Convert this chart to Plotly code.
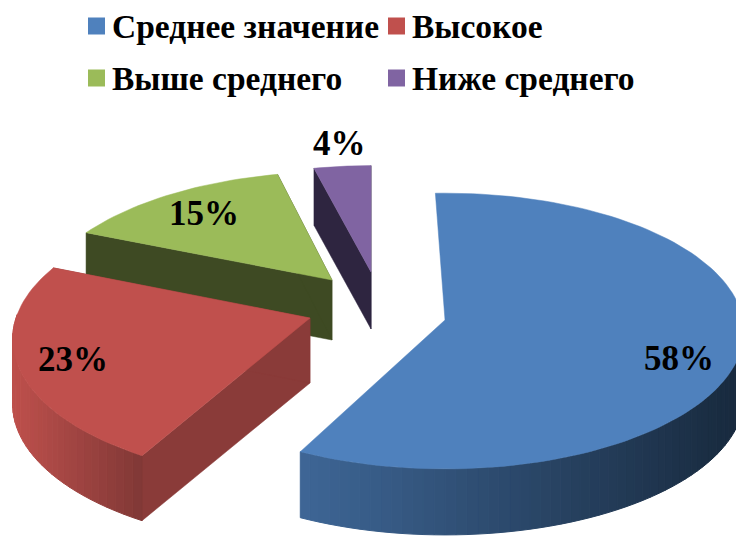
import math
import plotly.graph_objects as go

categories = ["Среднее значение", "Высокое", "Выше среднего", "Ниже среднего"]
values = [58, 23, 15, 4]
value_labels = ["58%", "23%", "15%", "4%"]

# style / layout constants
W, H = 736, 538
TOP = ["#4F81BD", "#C0504D", "#9BBB59", "#8064A2"]
ARC_L = [(62, 102, 150), (190, 80, 76), (70, 84, 38), (50, 40, 66)]
ARC_R = [(24, 42, 62), (128, 56, 54), (60, 72, 32), (44, 36, 58)]
CUT = ["#24405f", "#8A3B39", "#3E4A23", "#2E2540"]
APEX = [(445, 320), (310, 318), (332, 280), (371, 272)]
DEPTH = [66, 65, 60, 57]
LABEL_POS = [(679, 358), (73, 359), (204, 213), (339, 143)]
LEG_POS = [(88, 26), (388, 26), (88, 78), (388, 78)]
# per-slice projection: horizontal radius, vertical radius, perspective, rotation (deg)
PROJ = [(298, 137, 0.08, -2), (294, 138, 0.15, 1), (292, 135, 0.25, 1), (285, 133, 0.25, 0)]

def project(i, t):
    A, B, K, rot = PROJ[i]
    t = t + math.radians(rot)
    X, Y = math.sin(t), math.cos(t)
    s = 1 / (1 + K * Y)
    return APEX[i][0] + A * X * s, APEX[i][1] - B * Y * s

def mix(c1, c2, f):
    return "rgb(%d,%d,%d)" % tuple(round(a + (b - a) * f) for a, b in zip(c1, c2))

def poly(fig, xs, ys, color, lw=1.0):
    fig.add_trace(go.Scatter(x=xs, y=ys, mode="lines", fill="toself", fillcolor=color,
                             line=dict(color=color, width=lw), hoverinfo="skip", showlegend=False))

fig = go.Figure()
total = sum(values)
bounds = []
acc = 0
for v in values:
    bounds.append((acc / total * 2 * math.pi, (acc + v) / total * 2 * math.pi))
    acc += v

# painter's order: back slices first
for i in [3, 2, 1, 0]:
    a0, a1 = bounds[i]
    apex, d = APEX[i], DEPTH[i]
    n = max(12, int((a1 - a0) * 30))
    ts = [a0 + (a1 - a0) * j / n for j in range(n + 1)]
    pts = [project(i, t) for t in ts]
    # cut faces
    if i != 0:
        for e in (pts[0], pts[-1]):
            poly(fig, [apex[0], e[0], e[0], apex[0], apex[0]],
                 [apex[1], e[1], e[1] + d, apex[1] + d, apex[1]], CUT[i], 0.5)
    # curved side, shaded in strips (only the part facing the viewer)
    front = [j for j in range(n) if math.cos((ts[j] + ts[j + 1]) / 2 + math.radians(PROJ[i][3])) < 0.02]
    if front:
        xmin = min(min(pts[j][0], pts[j + 1][0]) for j in front)
        xmax = min(max(max(pts[j][0], pts[j + 1][0]) for j in front), W)
    for j in front:
        p, q = pts[j], pts[j + 1]
        f = min(1, max(0, ((p[0] + q[0]) / 2 - xmin) / (xmax - xmin)))
        poly(fig, [p[0], q[0], q[0], p[0], p[0]],
             [p[1], q[1], q[1] + d, p[1] + d, p[1]], mix(ARC_L[i], ARC_R[i], f))
    # top face
    poly(fig, [apex[0]] + [p[0] for p in pts] + [apex[0]],
         [apex[1]] + [p[1] for p in pts] + [apex[1]], TOP[i], 0.5)

# legend markers
fig.add_trace(go.Scatter(x=[p[0] + 8.5 for p in LEG_POS], y=[p[1] for p in LEG_POS], mode="markers",
                         marker=dict(symbol="square", size=17, color=TOP, line=dict(width=0)),
                         hoverinfo="skip", showlegend=False))

annotations = []
for name, (x, y) in zip(categories, LEG_POS):
    annotations.append(dict(x=x + 22, y=y, text="<b>%s</b>" % name, showarrow=False, xanchor="left",
                            yanchor="middle", font=dict(family="Liberation Serif", size=33.5, color="#000")))
for lab, (x, y) in zip(value_labels, LABEL_POS):
    annotations.append(dict(x=x, y=y, text="<b>%s</b>" % lab, showarrow=False, xanchor="center",
                            yanchor="middle", font=dict(family="Liberation Serif", size=35, color="#000")))

fig.update_layout(width=W, height=H, margin=dict(l=0, r=0, t=0, b=0), paper_bgcolor="white",
                  plot_bgcolor="white", annotations=annotations, showlegend=False,
                  xaxis=dict(range=[0, W], visible=False, fixedrange=True),
                  yaxis=dict(range=[H, 0], visible=False, fixedrange=True))
fig.write_html("out.html", config={"displayModeBar": False},
               post_script="document.body.style.margin='0';document.documentElement.style.overflow='hidden';")
